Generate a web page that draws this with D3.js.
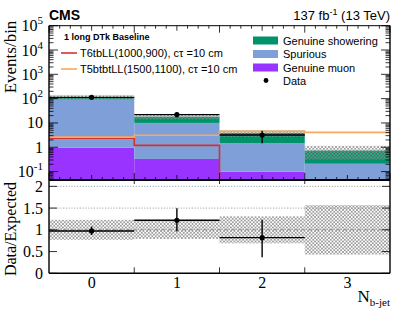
<!DOCTYPE html>
<html>
  <head>
    <meta charset="utf-8">
    <title>N b-jet, 1 long DTk baseline</title>
    <script src="https://d3js.org/d3.v7.min.js"></script>
    <style>
      body { margin: 0; background: #fff; }
      svg { display: block; }
      .serif { font-family: "Liberation Serif", "Times New Roman", serif; }
      .sans { font-family: "Liberation Sans", Arial, sans-serif; }
    </style>
  </head>
  <body>
    <svg id="chart" width="407" height="328"></svg>
    <script>
      // values
      var bins = [0, 1, 2, 3];
      var muon = [0.95, 0.33, 0.1, 0];
      var spurious = [91, 9.7, 1.4, 0.21];
      var showering = [24, 8, 2.4, 0.52];
      var data = [113, 22, 3.2, null];
      var dataErrLow = [10.6, 4.7, 1.75, null];
      var dataErrHigh = [11.6, 5.0, 1.6, null];
      var bandRel = [0.23, 0.21, 0.31, 0.57];
      var sigT6 = [2.35, 1.2, 0, 0];
      var sigT5 = [2.6, 3.1, 4.5, 4.1];
      var yTickExp = ["-1", "", "", "2", "3", "4", "5"];
      var ratioTicks = [0, 0.5, 1, 1.5, 2];

      var colours = { showering: "#00936b", spurious: "#7f9fd8", muon: "#9933ff",
                      t6: "#d7302f", t5: "#f8a95c" };

      // layout
      var left = 49, right = 390;
      var svg = d3.select("#chart");
      var x = d3.scaleLinear().domain([-0.5, 3.5]).range([left, right]);
      var y = d3.scaleLog().domain([0.045, 1e5]).range([180, 25.7]);
      var yr = d3.scaleLinear().domain([0, 2.1]).range([273.3, 182]);

      // hatch pattern for the uncertainty band
      var defs = svg.append("defs");
      var pat = defs.append("pattern")
        .attr("id", "hatch")
        .attr("width", 3.5).attr("height", 3.5)
        .attr("patternUnits", "userSpaceOnUse");
      pat.append("path").attr("d", "M0,0L3.5,3.5M3.5,0L0,3.5")
        .attr("stroke", "#8c8c8c").attr("stroke-width", 0.75);
      defs.append("clipPath").attr("id", "clipTop")
        .append("rect").attr("x", left).attr("y", y.range()[1])
        .attr("width", right - left).attr("height", y.range()[0] - y.range()[1]);
      defs.append("clipPath").attr("id", "clipRat")
        .append("rect").attr("x", left).attr("y", yr.range()[1] - 1)
        .attr("width", right - left).attr("height", yr.range()[0] - yr.range()[1] + 1);

      var total = bins.map(function(b) { return muon[b] + spurious[b] + showering[b]; });
      var yb = function(v) { return v <= 0 ? y.range()[0] + 5 : y(v); };

      // ---- upper panel ----
      var upper = svg.append("g").attr("clip-path", "url(#clipTop)");
      var layers = [
        { lo: function(b) { return 0; }, hi: function(b) { return muon[b]; }, c: colours.muon },
        { lo: function(b) { return muon[b]; }, hi: function(b) { return muon[b] + spurious[b]; }, c: colours.spurious },
        { lo: function(b) { return muon[b] + spurious[b]; }, hi: function(b) { return total[b]; }, c: colours.showering }
      ];
      layers.forEach(function(l) {
        upper.selectAll(null).data(bins).enter().append("rect")
          .attr("x", function(b) { return x(b - 0.5); })
          .attr("width", x(1) - x(0))
          .attr("y", function(b) { return yb(l.hi(b)); })
          .attr("height", function(b) { return Math.max(0, yb(l.lo(b)) - yb(l.hi(b))); })
          .attr("fill", l.c);
      });
      // uncertainty band
      upper.selectAll(null).data(bins).enter().append("rect")
        .attr("x", function(b) { return x(b - 0.5); })
        .attr("width", x(1) - x(0))
        .attr("y", function(b) { return y(total[b] * (1 + bandRel[b])); })
        .attr("height", function(b) { return y(total[b] * (1 - bandRel[b])) - y(total[b] * (1 + bandRel[b])); })
        .attr("fill", "url(#hatch)");

      // signal step lines
      function stepPath(vals) {
        var p = "M" + x(-0.5) + "," + yb(0);
        vals.forEach(function(v, i) {
          p += "L" + x(i - 0.5) + "," + yb(v) + "L" + x(i + 0.5) + "," + yb(v);
        });
        return p + "L" + x(3.5) + "," + yb(0);
      }
      upper.append("path").attr("d", stepPath(sigT6))
        .attr("fill", "none").attr("stroke", colours.t6).attr("stroke-width", 1.6);
      upper.append("path").attr("d", stepPath(sigT5))
        .attr("fill", "none").attr("stroke", colours.t5).attr("stroke-width", 1.6);

      // data
      var dBins = bins.filter(function(b) { return data[b] !== null; });
      dBins.forEach(function(b) {
        upper.append("line").attr("x1", x(b - 0.5)).attr("x2", x(b + 0.5))
          .attr("y1", y(data[b])).attr("y2", y(data[b]))
          .attr("stroke", "#000").attr("stroke-width", 1.4);
        upper.append("line").attr("x1", x(b)).attr("x2", x(b))
          .attr("y1", y(data[b] - dataErrLow[b])).attr("y2", y(data[b] + dataErrHigh[b]))
          .attr("stroke", "#000").attr("stroke-width", 1.4);
        upper.append("circle").attr("cx", x(b)).attr("cy", y(data[b])).attr("r", 2.6).attr("fill", "#000");
      });

      // ---- ratio panel ----
      var rat = svg.append("g").attr("clip-path", "url(#clipRat)");
      [1.5, 2].forEach(function(v) {
        rat.append("line").attr("x1", left).attr("x2", right)
          .attr("y1", yr(v)).attr("y2", yr(v))
          .attr("stroke", "#999").attr("stroke-width", 0.9).attr("stroke-dasharray", "1.2,1.6");
      });
      rat.selectAll(null).data(bins).enter().append("rect")
        .attr("x", function(b) { return x(b - 0.5); })
        .attr("width", x(1) - x(0))
        .attr("y", function(b) { return yr(1 + bandRel[b]); })
        .attr("height", function(b) { return yr(1 - bandRel[b]) - yr(1 + bandRel[b]); })
        .attr("fill", "url(#hatch)");
      rat.append("line").attr("x1", left).attr("x2", right)
        .attr("y1", yr(1)).attr("y2", yr(1))
        .attr("stroke", "#888").attr("stroke-width", 0.9).attr("stroke-dasharray", "4,3");
      dBins.forEach(function(b) {
        var r = data[b] / total[b];
        rat.append("line").attr("x1", x(b - 0.5)).attr("x2", x(b + 0.5))
          .attr("y1", yr(r)).attr("y2", yr(r))
          .attr("stroke", "#000").attr("stroke-width", 1.4);
        rat.append("line").attr("x1", x(b)).attr("x2", x(b))
          .attr("y1", yr(r - dataErrLow[b] / total[b])).attr("y2", yr(r + dataErrHigh[b] / total[b]))
          .attr("stroke", "#000").attr("stroke-width", 1.4);
        rat.append("circle").attr("cx", x(b)).attr("cy", yr(r)).attr("r", 2.6).attr("fill", "#000");
      });

      // ---- frames and ticks ----
      var ax = svg.append("g").attr("stroke", "#000").attr("fill", "none");
      function seg(x1, y1, x2, y2, w) {
        ax.append("line").attr("x1", x1).attr("y1", y1).attr("x2", x2).attr("y2", y2)
          .attr("stroke-width", w || 1);
      }
      var yT = y.range()[1], yB = y.range()[0], rB = yr.range()[0];
      seg(left, yT, right, yT, 1);
      seg(right, yT, right, rB, 1.4);
      seg(left, yT, left, rB, 1.4);
      seg(left, yB, right, yB, 1.8);
      seg(left, rB, right, rB, 1.4);

      // log ticks on both sides
      for (var d = -2; d <= 5; d++) {
        for (var k = 1; k <= 9; k++) {
          var v = k * Math.pow(10, d);
          if (v < y.domain()[0] || v > y.domain()[1]) continue;
          var len = k === 1 ? 9 : 4.5;
          seg(left, y(v), left + len, y(v), 0.8);
          seg(right, y(v), right - len, y(v), 0.8);
        }
      }
      // x ticks of the upper panel, top and bottom
      for (var t = -0.5; t <= 3.5001; t += 0.125) {
        var edge = Math.abs((t + 0.5) - Math.round(t + 0.5)) < 1e-6;
        var centre = Math.abs(t - Math.round(t)) < 1e-6;
        var tl = edge ? 7 : centre ? 5 : 3;
        seg(x(t), yT, x(t), yT + tl, 0.8);
        seg(x(t), yB, x(t), yB - tl, 0.8);
      }
      // ratio ticks
      ratioTicks.forEach(function(v) {
        seg(left, yr(v), left + 8, yr(v), 0.8);
        seg(right, yr(v), right - 8, yr(v), 0.8);
      });
      [0.5, 1.5, 2.5].forEach(function(t) {
        seg(x(t), rB, x(t), rB - 6, 0.8);
        seg(x(t), yB, x(t), yB + 4, 0.8);
      });

      // ---- tick labels ----
      var lab = svg.append("g").attr("class", "serif").attr("fill", "#000");
      yTickExp.forEach(function(exp, i) {
        var v = Math.pow(10, i - 1);
        var tx = lab.append("text").attr("x", 43).attr("y", y(v) + 5.5)
          .attr("text-anchor", "end").style("font-size", "16px");
        if (exp) {
          tx.append("tspan").text("10");
          tx.append("tspan").attr("dy", -7).style("font-size", "11px").text(exp);
        } else {
          tx.text(String(v));
        }
      });
      ratioTicks.forEach(function(v) {
        lab.append("text").attr("x", 43).attr("y", yr(v) + 5.5)
          .attr("text-anchor", "end").style("font-size", "16px").text(String(v));
      });
      bins.forEach(function(b) {
        lab.append("text").attr("x", x(b)).attr("y", 288)
          .attr("text-anchor", "middle").style("font-size", "16px").text(String(b));
      });
      var xt = lab.append("text").attr("x", 390).attr("y", 302).attr("text-anchor", "end");
      xt.append("tspan").style("font-size", "17px").text("N");
      xt.append("tspan").attr("dy", 4).style("font-size", "11px").text("b-jet");
      lab.append("text").attr("transform", "translate(16,57) rotate(-90)")
        .attr("text-anchor", "middle").style("font-size", "17px").text("Events/bin");
      lab.append("text").attr("transform", "translate(16,229) rotate(-90)")
        .attr("text-anchor", "middle").style("font-size", "16px").text("Data/Expected");

      // ---- header ----
      var hd = svg.append("g").attr("class", "sans").attr("fill", "#000");
      hd.append("text").attr("x", 49).attr("y", 20).style("font-size", "14px")
        .style("font-weight", "bold").text("CMS");
      var lumi = hd.append("text").attr("x", 390).attr("y", 20).attr("text-anchor", "end")
        .style("font-size", "13px");
      lumi.append("tspan").text("137 fb");
      lumi.append("tspan").attr("dy", -5).style("font-size", "9px").text("-1");
      lumi.append("tspan").attr("dy", 5).text(" (13 TeV)");

      // ---- legends ----
      hd.append("text").attr("x", 64).attr("y", 40).style("font-size", "9px")
        .style("font-weight", "bold").text("1 long DTk Baseline");
      var sigLeg = [
        { label: "T6tbLL(1000,900), c\u03C4 =10 cm", c: colours.t6, y: 53 },
        { label: "T5btbtLL(1500,1100), c\u03C4 =10 cm", c: colours.t5, y: 69 }
      ];
      sigLeg.forEach(function(s) {
        hd.append("line").attr("x1", 61).attr("x2", 77).attr("y1", s.y).attr("y2", s.y)
          .attr("stroke", s.c).attr("stroke-width", 1.6);
        hd.append("text").attr("x", 80).attr("y", s.y + 4).style("font-size", "11px").text(s.label);
      });
      var bgLeg = [
        { label: "Genuine showering", c: colours.showering, y: 40.5 },
        { label: "Spurious", c: colours.spurious, y: 54 },
        { label: "Genuine muon", c: colours.muon, y: 67.5 }
      ];
      bgLeg.forEach(function(s) {
        hd.append("rect").attr("x", 253).attr("y", s.y - 4).attr("width", 25).attr("height", 8)
          .attr("fill", s.c);
        hd.append("text").attr("x", 283).attr("y", s.y + 4).style("font-size", "11px").text(s.label);
      });
      hd.append("circle").attr("cx", 266).attr("cy", 80.5).attr("r", 2.4).attr("fill", "#000");
      hd.append("text").attr("x", 283).attr("y", 84.5).style("font-size", "11px").text("Data");
    </script>
  </body>
</html>
